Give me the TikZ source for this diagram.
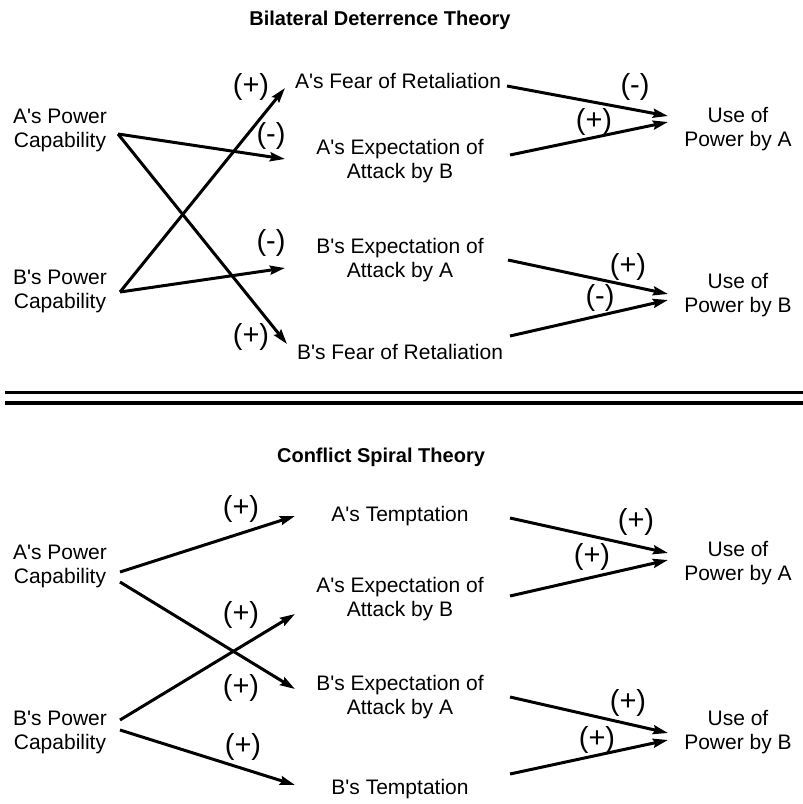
\documentclass[tikz,border=0pt]{standalone}
\usepackage{fontspec}
\setmainfont{Liberation Sans}[Ligatures=TeXOff]
\usetikzlibrary{arrows.meta}
\newcommand{\twoln}[2]{\begin{tabular}[t]{@{}c@{}}#1\\#2\end{tabular}}
\begin{document}
\begin{tikzpicture}[x=1pt,y=-1pt,
  lbl/.style={font=\fontsize{21}{24}\selectfont, inner sep=0pt, anchor=base},
  ttl/.style={font=\fontsize{20}{24}\selectfont\bfseries, inner sep=0pt, anchor=base},
  sgn/.style={font=\fontsize{29}{32}\selectfont, inner sep=0pt},
  arr/.style={line width=3pt, -{Stealth[length=15pt,width=9pt,inset=2pt]}},
  sepline/.style={line width=3.5pt}]
\useasboundingbox (0,0) rectangle (803,804);
\fill[white] (0,0) rectangle (803,804);

% ---------- Bilateral Deterrence Theory ----------
\node[ttl] (t1) at (380,25) {Bilateral Deterrence Theory};
\node[lbl] (apc1) at (60,123) {\twoln{A's Power}{Capability}};
\node[lbl] (bpc1) at (60,284) {\twoln{B's Power}{Capability}};
\node[lbl] (afr) at (398,88) {A's Fear of Retaliation};
\node[lbl] (aeb1) at (400,154) {\twoln{A's Expectation of}{Attack by B}};
\node[lbl] (bea1) at (400,253) {\twoln{B's Expectation of}{Attack by A}};
\node[lbl] (bfr) at (400,359) {B's Fear of Retaliation};
\node[lbl] (ua1) at (738,122) {\twoln{Use of}{Power by A}};
\node[lbl] (ub1) at (738,288) {\twoln{Use of}{Power by B}};

\coordinate (apc1o) at (118,134);
\coordinate (bpc1o) at (120,292);
\coordinate (afri) at (285,88);
\coordinate (aeb1i) at (285,159);
\coordinate (bea1i) at (285,268);
\coordinate (bfri) at (287,344);
\coordinate (afro) at (507,86);
\coordinate (aeb1o) at (510,155);
\coordinate (bea1o) at (508,260);
\coordinate (bfro) at (510,336);
\coordinate (ua1a) at (668,116);
\coordinate (ua1b) at (668,122);
\coordinate (ub1a) at (668,294);
\coordinate (ub1b) at (668,300);

\draw[arr] (apc1o) -- (aeb1i);
\draw[arr] (apc1o) -- (bfri);
\draw[arr] (bpc1o) -- (afri);
\draw[arr] (bpc1o) -- (bea1i);
\draw[arr] (afro) -- (ua1a);
\draw[arr] (aeb1o) -- (ua1b);
\draw[arr] (bea1o) -- (ub1a);
\draw[arr] (bfro) -- (ub1b);

\node[sgn] (s1) at (251,87) {(+)};
\node[sgn] (s2) at (271,136) {(-)};
\node[sgn] (s3) at (271,243) {(-)};
\node[sgn] (s4) at (251,337) {(+)};
\node[sgn] (s5) at (635,87) {(-)};
\node[sgn] (s6) at (594,122) {(+)};
\node[sgn] (s7) at (628,267) {(+)};
\node[sgn] (s8) at (600,298) {(-)};

% ---------- separator ----------
\draw[sepline] (5,392.5) -- (803,392.5);
\draw[sepline] (5,403) -- (803,403);

% ---------- Conflict Spiral Theory ----------
\node[ttl] (t2) at (381,462) {Conflict Spiral Theory};
\node[lbl] (apc2) at (60,559) {\twoln{A's Power}{Capability}};
\node[lbl] (bpc2) at (60,725) {\twoln{B's Power}{Capability}};
\node[lbl] (atm) at (400,521) {A's Temptation};
\node[lbl] (aeb2) at (400,592) {\twoln{A's Expectation of}{Attack by B}};
\node[lbl] (bea2) at (400,690) {\twoln{B's Expectation of}{Attack by A}};
\node[lbl] (btm) at (400,794) {B's Temptation};
\node[lbl] (ua2) at (738,556) {\twoln{Use of}{Power by A}};
\node[lbl] (ub2) at (738,725) {\twoln{Use of}{Power by B}};

\coordinate (apc2a) at (120,572);
\coordinate (apc2b) at (120,582);
\coordinate (bpc2a) at (120,720);
\coordinate (bpc2b) at (120,730);
\coordinate (atmi) at (295,516);
\coordinate (aeb2i) at (295,614);
\coordinate (bea2i) at (295,689);
\coordinate (btmi) at (295,785);
\coordinate (atmo) at (510,518);
\coordinate (aeb2o) at (510,596);
\coordinate (bea2o) at (510,697);
\coordinate (btmo) at (510,774);
\coordinate (ua2a) at (668,553);
\coordinate (ua2b) at (668,560);
\coordinate (ub2a) at (668,733);
\coordinate (ub2b) at (668,740);

\draw[arr] (apc2a) -- (atmi);
\draw[arr] (apc2b) -- (bea2i);
\draw[arr] (bpc2a) -- (aeb2i);
\draw[arr] (bpc2b) -- (btmi);
\draw[arr] (atmo) -- (ua2a);
\draw[arr] (aeb2o) -- (ua2b);
\draw[arr] (bea2o) -- (ub2a);
\draw[arr] (btmo) -- (ub2b);

\node[sgn] (c1) at (241,509) {(+)};
\node[sgn] (c2) at (241,615) {(+)};
\node[sgn] (c3) at (241,688) {(+)};
\node[sgn] (c4) at (243,747) {(+)};
\node[sgn] (c5) at (636,522) {(+)};
\node[sgn] (c6) at (592,557) {(+)};
\node[sgn] (c7) at (628,703) {(+)};
\node[sgn] (c8) at (597,740) {(+)};
\end{tikzpicture}
\end{document}
